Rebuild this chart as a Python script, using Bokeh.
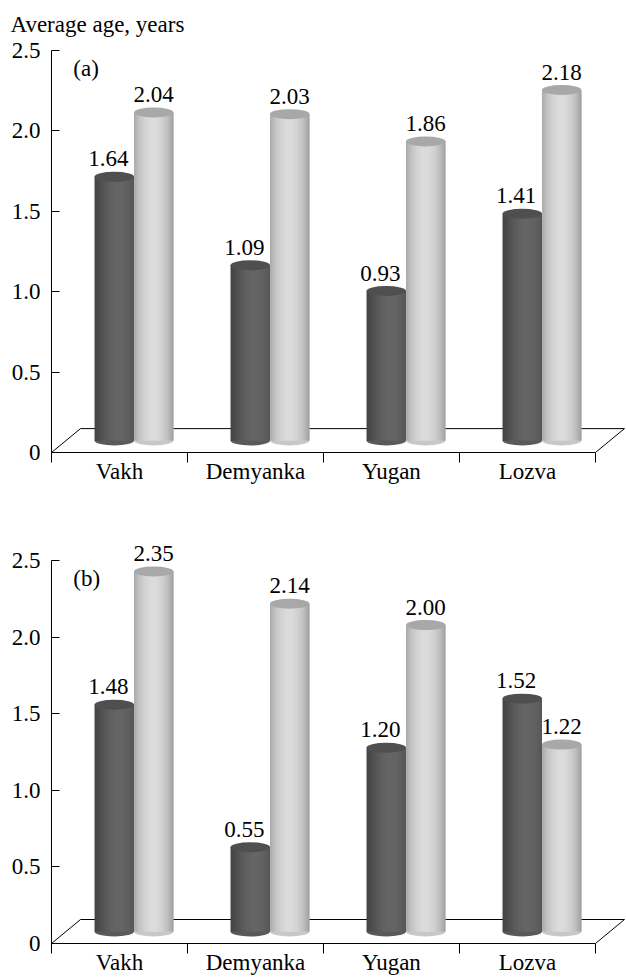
from bokeh.plotting import figure
from bokeh.models import Range1d, FixedTicker, PrintfTickFormatter
from bokeh.layouts import column
from bokeh.embed import file_html
from bokeh.resources import INLINE
from bokeh.core.properties import value

# ---------------- data ----------------
categories = ["Vakh", "Demyanka", "Yugan", "Lozva"]
a_dark = [1.64, 1.09, 0.93, 1.41]
a_light = [2.04, 2.03, 1.86, 2.18]
b_dark = [1.48, 0.55, 1.20, 1.52]
b_light = [2.35, 2.14, 2.00, 1.22]
y_ticks = [0, 0.5, 1.0, 1.5, 2.0, 2.5]
y_label = "Average age, years"

# ---------------- style ----------------
FONT = "Liberation Serif"
FS = "23px"
FIG_W = 626
BORDER_L = 51
FRAME_W = FIG_W - BORDER_L
DX_PX = 29      # floor depth (screen px)
DY_PX = 24
ELL_H = 10      # cylinder ellipse height (px)
BAR_W = 0.29
X_END = 3.5 + DX_PX / 136.0 + 0.015


def ramp(anchors, n):
    out = []
    m = len(anchors) - 1
    for k in range(n):
        t = k / (n - 1) * m
        i = min(int(t), m - 1)
        f = t - i
        g = round(anchors[i] * (1 - f) + anchors[i + 1] * f)
        out.append("#%02x%02x%02x" % (g, g, g))
    return out


DARK_BODY = ramp([0x44, 0x50, 0x5a, 0x61, 0x65, 0x65, 0x60, 0x58], 24)
LIGHT_BODY = ramp([0xae, 0xc6, 0xd4, 0xdb, 0xdb, 0xd1, 0xc0, 0xa4], 24)
DARK_TOP, DARK_BOT = "#4f4f4f", "#595959"
LIGHT_TOP, LIGHT_BOT = "#a8a8a8", "#c8c8c8"


def cylinders(p, xs, vals, base, body, top_col, bot_col):
    tops = [v + base for v in vals]
    n = len(body)
    step = BAR_W / n
    p.ellipse(x=xs, y=[base] * len(xs), width=BAR_W, height=ELL_H,
              height_units="screen", fill_color=bot_col, line_color=None)
    for k, c in enumerate(body):
        x0 = -BAR_W / 2 + k * step
        x1 = min(x0 + 2.0 * step, BAR_W / 2)
        p.vbar(x=[x + (x0 + x1) / 2 for x in xs], width=x1 - x0, top=tops,
               bottom=base, fill_color=c, line_color=None)
    p.ellipse(x=xs, y=tops, width=BAR_W, height=ELL_H, height_units="screen",
              fill_color=top_col, line_color=None)
    return tops


def panel(dark, light, letter, letter_y, height, top_b, bot_b, y_top, title=None):
    p = figure(width=FIG_W, height=height,
               x_range=Range1d(-0.5, X_END), y_range=Range1d(0, y_top),
               output_backend="svg", toolbar_location=None,
               min_border_left=BORDER_L, min_border_right=0,
               min_border_top=top_b, min_border_bottom=bot_b,
               title=title)
    p.outline_line_color = None
    p.xgrid.visible = False
    p.ygrid.visible = False
    p.background_fill_color = "white"
    p.border_fill_color = "white"

    frame_h = height - top_b - bot_b
    sy = frame_h / y_top
    sx = FRAME_W / (X_END + 0.5)
    dxd = DX_PX / sx
    dyd = DY_PX / sy
    base = dyd / 2

    # floor outline (front edge is the x axis)
    p.multi_line(xs=[[-0.5, -0.5 + dxd, 3.5 + dxd, 3.5]],
                 ys=[[0, dyd, dyd, 0]], line_color="black", line_width=1)

    idx = list(range(len(categories)))
    xd = [i + dxd / 2 - BAR_W / 2 for i in idx]
    xl = [i + dxd / 2 + BAR_W / 2 for i in idx]
    tops_d = cylinders(p, xd, dark, base, DARK_BODY, DARK_TOP, DARK_BOT)
    tops_l = cylinders(p, xl, light, base, LIGHT_BODY, LIGHT_TOP, LIGHT_BOT)

    p.text(x=xd, y=tops_d, text=[f"{v:.2f}" for v in dark], text_align="center",
           text_baseline="alphabetic", y_offset=-18, x_offset=-6,
           text_font=value(FONT), text_font_size=FS, text_color="black")
    p.text(x=xl, y=tops_l, text=[f"{v:.2f}" for v in light], text_align="center",
           text_baseline="alphabetic", y_offset=-18,
           text_font=value(FONT), text_font_size=FS, text_color="black")
    p.text(x=[-0.34], y=[letter_y], text=[letter], text_align="left",
           text_baseline="middle", text_font=value(FONT), text_font_size=FS,
           text_color="black")

    xa = p.xaxis[0]
    xa.ticker = FixedTicker(ticks=idx, minor_ticks=[-0.5, 0.5, 1.5, 2.5, 3.5])
    xa.major_label_overrides = {i: c for i, c in enumerate(categories)}
    xa.bounds = (-0.5, 3.5)
    xa.major_tick_in = 0
    xa.major_tick_out = 0
    xa.minor_tick_in = 0
    xa.minor_tick_out = 10
    xa.minor_tick_line_color = "black"
    xa.axis_line_color = "black"
    xa.major_label_standoff = -4
    xa.major_label_text_font = FONT
    xa.major_label_text_font_size = FS
    xa.major_label_text_color = "black"

    ya = p.yaxis[0]
    ya.ticker = FixedTicker(ticks=y_ticks, minor_ticks=[])
    ya.formatter = PrintfTickFormatter(format="%.1f")
    ya.major_label_overrides = {0: "0"}
    ya.bounds = (0, 2.5)
    ya.major_tick_in = 8
    ya.major_tick_out = 0
    ya.minor_tick_in = 0
    ya.minor_tick_out = 0
    ya.major_tick_line_color = "black"
    ya.axis_line_color = "black"
    ya.major_label_standoff = 11
    ya.major_label_text_font = FONT
    ya.major_label_text_font_size = FS
    ya.major_label_text_color = "black"

    if title is not None:
        p.title.align = "left"
        p.title.vertical_align = "top"
        p.title.offset = -41
        p.title.standoff = 23
        p.title.text_font = FONT
        p.title.text_font_size = FS
        p.title.text_font_style = "normal"
        p.title.text_color = "black"
    return p


pa = panel(a_dark, a_light, "(a)", 2.39, 504, 48, 52, 2.5, title=y_label)
pb = panel(b_dark, b_light, "(b)", 2.38, 473, 26, 34, 2.696)

layout = column(pa, pb, spacing=0)
open("out.html", "w").write(file_html(layout, INLINE))
